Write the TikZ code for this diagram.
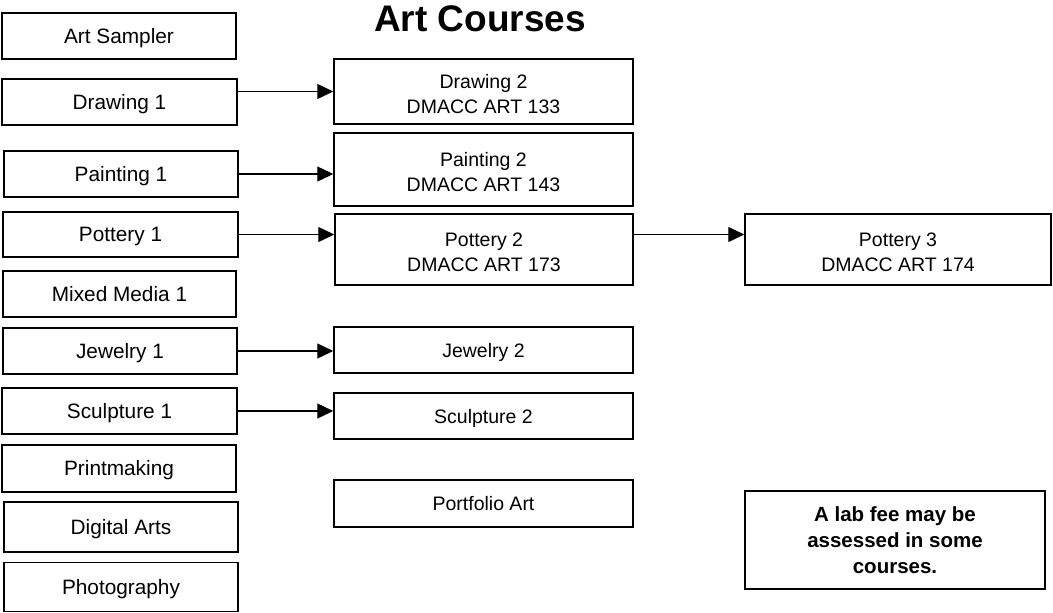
\documentclass[tikz,border=0pt]{standalone}
\usepackage{fontspec}
\setmainfont{Liberation Sans}
\usetikzlibrary{arrows.meta}
\begin{document}
\begin{tikzpicture}[x=1pt,y=-1pt,
  boxed/.style={draw, line width=1.5pt, inner sep=0pt, align=center},
  course/.style={boxed, font=\fontsize{20.8}{24}\selectfont, text height=14.9pt, text depth=0pt},
  adv/.style={boxed, font=\fontsize{19.5}{24}\selectfont, text height=14pt, text depth=0pt},
  advtwo/.style={boxed, font=\fontsize{19.5}{25}\selectfont},
  note/.style={boxed, font=\fontsize{20.5}{26}\selectfont\bfseries},
  link/.style={line width=1.4pt, -{Triangle[length=16pt,width=15pt]}}]
\useasboundingbox (0,0) rectangle (1053,613);
\node (title) at (480,19) {\fontsize{37}{40}\selectfont\bfseries Art Courses};
% left column
\node[course, minimum width=234pt, minimum height=46pt] (artsampler) at (119,36) {Art Sampler};
\node[course, minimum width=235pt, minimum height=46pt] (drawing1) at (119.5,102) {Drawing 1};
\node[course, minimum width=234pt, minimum height=46pt] (painting1) at (121,174) {Painting 1};
\node[course, minimum width=235pt, minimum height=45pt] (pottery1) at (120.5,234.5) {Pottery 1};
\node[course, minimum width=233pt, minimum height=46pt] (mixed) at (119.5,294) {Mixed Media 1};
\node[course, minimum width=234pt, minimum height=46pt] (jewelry1) at (120,351) {Jewelry 1};
\node[course, minimum width=235pt, minimum height=46pt] (sculpture1) at (119.5,411) {Sculpture 1};
\node[course, minimum width=234pt, minimum height=47pt] (printmaking) at (119,468.5) {Printmaking};
\node[course, minimum width=234pt, minimum height=50pt] (digital) at (121,527) {Digital Arts};
\node[course, minimum width=234pt, minimum height=49pt] (photography) at (121,587) {Photography};
% middle column
\node[advtwo, minimum width=299pt, minimum height=65pt] (drawing2) at (483.5,91.5) {\rule{0pt}{19pt}Drawing 2\\DMACC ART 133};
\node[advtwo, minimum width=299pt, minimum height=73pt] (painting2) at (483.5,169.5) {\rule{0pt}{19pt}Painting 2\\DMACC ART 143};
\node[advtwo, minimum width=298pt, minimum height=71pt] (pottery2) at (484,249.5) {\rule{0pt}{19pt}Pottery 2\\DMACC ART 173};
\node[adv, minimum width=299pt, minimum height=46pt] (jewelry2) at (483.5,350) {Jewelry 2};
\node[adv, minimum width=299pt, minimum height=46pt] (sculpture2) at (483.5,416) {Sculpture 2};
\node[adv, minimum width=299pt, minimum height=47pt] (portfolio) at (483.5,503.5) {Portfolio Art};
% right column
\node[advtwo, minimum width=306pt, minimum height=71pt] (pottery3) at (898,249.5) {\rule{0pt}{19pt}Pottery 3\\DMACC ART 174};
\node[note, minimum width=300pt, minimum height=98pt] (labfee) at (895,540) {A lab fee may be\\assessed in some\\courses.};
% connectors
\draw[link] (drawing1.east |- drawing2.west) -- (drawing2.west);
\draw[link] (painting1.east) -- (painting1.east -| painting2.west);
\draw[link] (pottery1.east) -- (pottery1.east -| pottery2.west);
\draw[link] (pottery1.east -| pottery2.east) -- (pottery1.east -| pottery3.west);
\draw[link] (jewelry1.east) -- (jewelry1.east -| jewelry2.west);
\draw[link] (sculpture1.east) -- (sculpture1.east -| sculpture2.west);
\end{tikzpicture}
\end{document}
